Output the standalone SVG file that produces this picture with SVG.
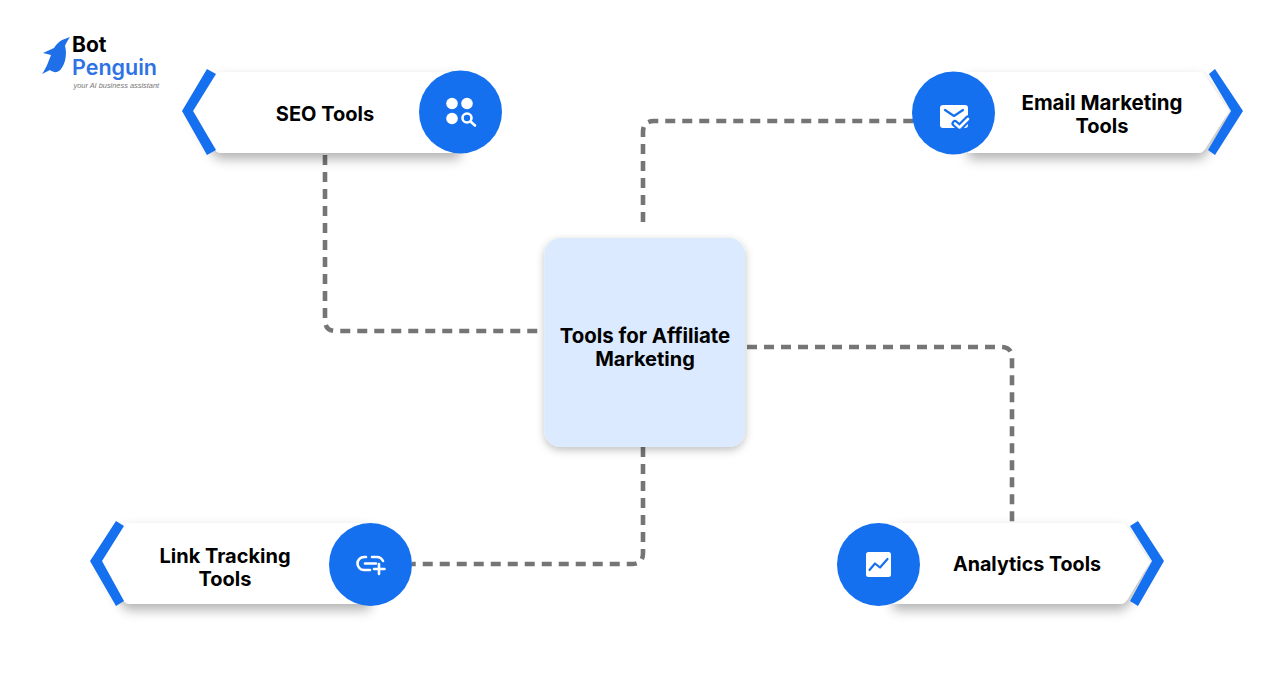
<svg xmlns="http://www.w3.org/2000/svg" width="1288" height="686" viewBox="0 0 1288 686">
<style>
.conn{fill:none;stroke:#757575;stroke-width:4.600;stroke-dasharray:10 7}
.card{fill:#fff;filter:url(#sh)}
.chev{fill:#1570ef}
.disc{fill:#1570ef}
.lbl{font-family:"Inter","Liberation Sans",sans-serif;font-weight:700;font-size:20px;fill:#000;text-anchor:middle}
.ic{fill:#fff}
.icl{fill:none;stroke:#fff;stroke-width:2.600;stroke-linecap:round;stroke-linejoin:round}
.icb{fill:none;stroke:#1570ef;stroke-width:2.200;stroke-linecap:round;stroke-linejoin:round}
</style>
<defs>
<filter id="sh" x="-20%" y="-30%" width="140%" height="180%"><feDropShadow dx="0" dy="6" stdDeviation="6" flood-color="#000" flood-opacity="0.3"/></filter>
<filter id="shc" x="-15%" y="-15%" width="130%" height="130%"><feDropShadow dx="0" dy="3" stdDeviation="4" flood-color="#000" flood-opacity="0.25"/></filter>
</defs>
<rect width="1288" height="686" fill="#fff"/>
<g id="connectors">
<path class="conn" d="M325 155V320Q325 331 336 331H544"/>
<path class="conn" d="M643 222V132Q643 121 654 121H914"/>
<path class="conn" d="M747 347H1001Q1012 347 1012 358V523"/>
<path class="conn" d="M643 447V553Q643 564 632 564H412"/>
</g>
<g id="logo">
<path fill="#1f6fe8" d="M70 37L62 40C58 42 56 45 54 48L43 53L51 55C49 60 47 67 42 74L50 70C54 73 58 73 61 69C66 63 67 52 65 46C66 43 68 40 70 37Z"/>
<text x="72" y="52" font-family="Inter,'Liberation Sans',sans-serif" font-weight="700" font-size="21" fill="#000">Bot</text>
<text x="72" y="75" font-family="Inter,'Liberation Sans',sans-serif" font-weight="600" font-size="21.500" fill="#2f72e4">Penguin</text>
<text x="73.500" y="88" font-family="'Liberation Sans',sans-serif" font-style="italic" font-size="7.400" fill="#777">your AI business assistant</text>
</g>
<g id="center">
<rect x="544.500" y="238" width="200.500" height="209" rx="16" fill="#dbeafe" filter="url(#shc)"/>
<text class="lbl" x="645" y="343" font-size="20.400" style="font-size:20.400px">Tools for Affiliate</text>
<text class="lbl" x="645" y="366">Marketing</text>
</g>
<g id="seo">
<path class="card" d="M222 72H460V153H222Q217 153 214 149L194 111L214 76Q217 72 222 72Z"/>
<path class="chev" d="M207 69L216 74L193 111L216 150L207 155L182 111Z"/>
<circle class="disc" cx="460.500" cy="112" r="41.500"/>
<text class="lbl" x="325" y="121">SEO Tools</text>
<circle class="ic" cx="452" cy="103.500" r="5.800"/><circle class="ic" cx="467" cy="103.500" r="5.800"/><circle class="ic" cx="452" cy="118.500" r="5.800"/>
<circle class="icl" cx="467" cy="118" r="4.500"/><path class="icl" d="M470.500 121.500L475 125.500"/>
</g>
<g id="email">
<path class="card" d="M968 72H1198Q1202 72 1205 76L1229 111L1205 149Q1202 153 1198 153H968Z"/>
<path class="chev" d="M1215 69L1243 111L1215 155L1208 150L1231 111L1209 74Z"/>
<circle class="disc" cx="953.500" cy="113" r="41.500"/>
<text class="lbl" x="1102" y="110" style="font-size:20.500px">Email Marketing</text>
<text class="lbl" x="1102" y="133">Tools</text>
<rect class="ic" x="940" y="105" width="28" height="23" rx="3"/>
<path class="icb" d="M945 110L954 116L963 110"/>
<path d="M955 123.500L959.500 127.500L968 119" fill="none" stroke="#1570ef" stroke-width="7" stroke-linecap="round" stroke-linejoin="round"/>
<path class="icl" d="M955 123.500L959.500 127.500L968 119"/>
</g>
<g id="link">
<path class="card" d="M130 523H370V604H130Q126 604 123 600L102 562L123 527Q126 523 130 523Z"/>
<path class="chev" d="M116 521L124 526L102 561L124 601L116 606L90 561Z"/>
<circle class="disc" cx="370.500" cy="564.500" r="41.500"/>
<text class="lbl" x="225" y="563">Link Tracking</text>
<text class="lbl" x="225" y="586">Tools</text>
<path class="icl" d="M366 557H364A6.500 6.500 0 0 0 364 570H370M365 563.500H376M372 557H377Q381 557 383 561"/>
<path class="icl" d="M379 564V574M374 569H384.500"/>
</g>
<g id="analytics">
<path class="card" d="M893 523H1120Q1124 523 1127 527L1150 562L1127 600Q1124 604 1120 604H893Z"/>
<path class="chev" d="M1138 521L1164 561L1138 606L1130 601L1152 561L1130 526Z"/>
<circle class="disc" cx="878.500" cy="564.500" r="41.500"/>
<text class="lbl" x="1027" y="571" style="font-size:19.700px">Analytics Tools</text>
<rect class="ic" x="866" y="552" width="25" height="25" rx="2.500"/>
<path class="icb" d="M869.500 570L875 563.500L880 567.500L887.500 559"/>
</g>
</svg>
